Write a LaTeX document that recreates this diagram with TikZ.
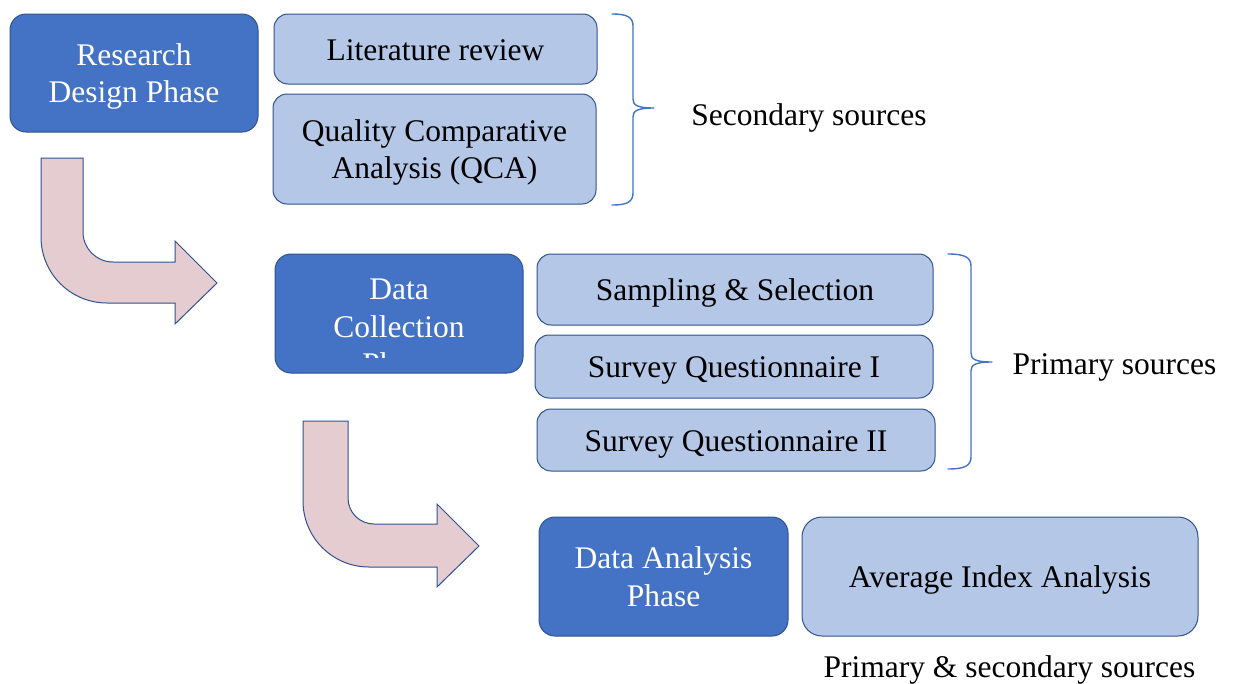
\documentclass[tikz,border=0pt]{standalone}
\usepackage{fontspec}
\setmainfont{Liberation Serif}
\usepackage{tikz}
\usetikzlibrary{arrows.meta}
\definecolor{phaseblue}{HTML}{4472C4}
\definecolor{taskblue}{HTML}{B4C7E7}
\definecolor{edgeblue}{HTML}{2F528F}
\definecolor{arrowpink}{HTML}{E4CCD1}
\tikzset{
  every picture/.style={font=\fontsize{31.5}{37.5}\selectfont, line join=round, line cap=round},
  phase/.style={draw=edgeblue, fill=phaseblue, text=white, rounded corners=16pt, line width=1pt, inner sep=0pt, align=center, text depth=0pt},
  task/.style={draw=edgeblue, fill=taskblue, text=black, rounded corners=14pt, line width=1pt, inner sep=0pt, align=center, text depth=0pt},
  oneline/.style={text height=29.5pt, text depth=7pt},
  srclabel/.style={inner sep=0pt, oneline},
  bentarrow/.style={draw=edgeblue, fill=arrowpink, line width=1pt, line join=miter},
  srcbrace/.style={draw=phaseblue, line width=1.4pt},
}

\begin{document}
\begin{tikzpicture}[x=1pt,y=-1pt]
\useasboundingbox (0,0) rectangle (1234,683);
\draw[bentarrow](41,158)--(83,158)--(83,232)
arc[start angle=180,end angle=270,radius=30pt]--(175,262)--(175,241)--(217,283)--(175,324)--(175,303)--(107,303)
arc[start angle=270,end angle=180,radius=66pt]--cycle;
\draw[bentarrow](303,421)--(348,421)--(348,498)
arc[start angle=180,end angle=270,radius=26pt]--(437,524)--(437,504)--(479,546)--(437,587)--(437,567)--(369,567)
arc[start angle=270,end angle=180,radius=66pt]--cycle;
\node[phase,minimum width=248pt,minimum height=118pt](design)at(134,73){Research\\Design Phase};
\node[task,oneline,minimum width=323pt,minimum height=70pt](litrev)at(435.5,49){Literature review};
\node[task,minimum width=323pt,minimum height=110pt](qca)at(434.5,149){Quality Comparative\\Analysis (QCA)};
\node[phase,minimum width=248pt,minimum height=119pt](collection)at(399,313.5){};
\begin{scope}
\clip(275,254)rectangle(523,357);
\node[text=white,align=center,inner sep=0pt](collectiontext)at(399,327){Data\\Collection\\Phase};
\end{scope}
\node[task,oneline,minimum width=396pt,minimum height=71pt](sampling)at(735,289.5){Sampling \& Selection};
\node[task,oneline,minimum width=398pt,minimum height=63pt](surveyA)at(734,366.5){Survey Questionnaire I};
\node[task,oneline,minimum width=398pt,minimum height=62pt](surveyB)at(736,440){Survey Questionnaire II};
\node[phase,minimum width=249pt,minimum height=119pt](analysis)at(663.5,576.5){Data Analysis\\Phase};
\node[task,oneline,rounded corners=20pt,minimum width=396pt,minimum height=119pt](avgindex)at(1000,576.5){Average Index Analysis};
\draw[srcbrace](612,14)..controls(627,14)and(633,17)..(633,26)--(633,99)
..controls(633,105)and(637,108)..(654,108)..controls(637,108)and(633,111)..(633,117)
--(633,193)..controls(633,202)and(627,205)..(612,205);
\draw[srcbrace](948,254)..controls(964,254)and(971,257)..(971,266)--(971,353)
..controls(971,359)and(975,362)..(992,362)..controls(975,362)and(971,365)..(971,371)
--(971,457)..controls(971,466)and(964,469)..(948,469);
\node[srclabel](secondary)at(809,114){Secondary sources};
\node[srclabel](primary)at(1114.5,363){Primary sources};
\node[srclabel](mixed)at(1009.5,666){Primary \& secondary sources};
\end{tikzpicture}
\end{document}
